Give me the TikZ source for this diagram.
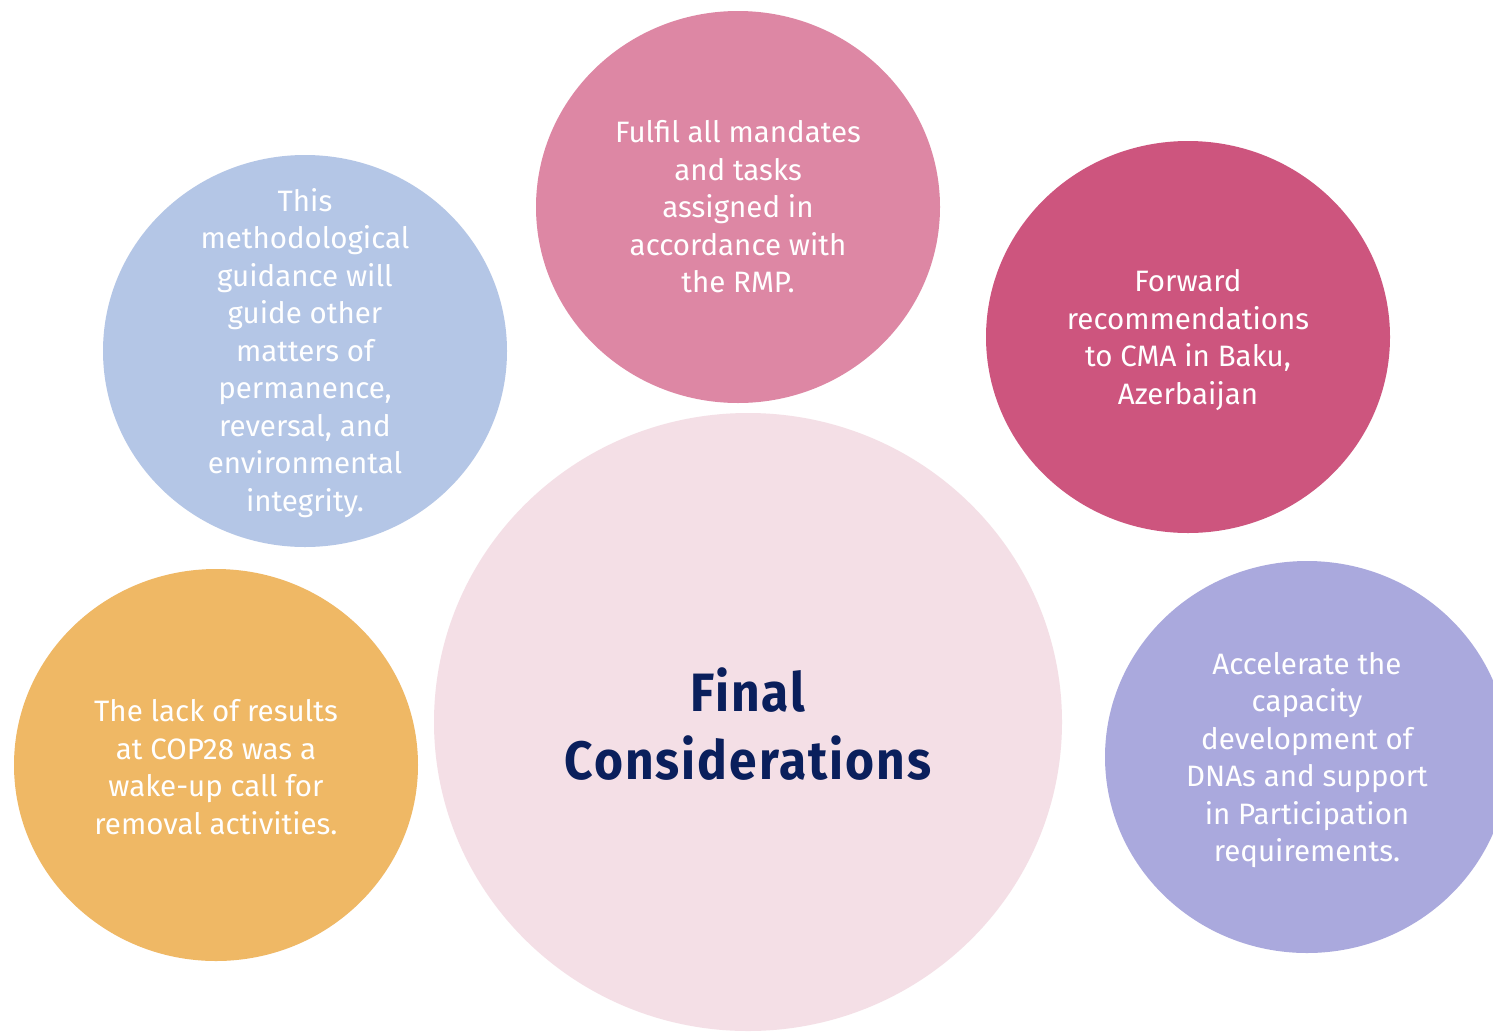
\documentclass[tikz,border=0pt]{standalone}
\usepackage{fontspec}
\usepackage{graphicx}
\usetikzlibrary{shapes.geometric}
\newfontfamily\bodyfont{Fira Sans}
\newfontfamily\titlefont[LetterSpace=4]{Fira Sans}
\definecolor{cpink}{HTML}{DD87A4}
\definecolor{cblue}{HTML}{B4C6E6}
\definecolor{cmag}{HTML}{CD557E}
\definecolor{cbig}{HTML}{F4DFE6}
\definecolor{corange}{HTML}{EFB865}
\definecolor{cpurple}{HTML}{AAA9DD}
\definecolor{cnavy}{HTML}{0A1F5C}
\tikzset{
  bubble/.style={ellipse, draw=none, inner sep=0pt, minimum width=404pt, minimum height=392pt},
  bubbletext/.style={align=center, text=white, inner sep=0pt, font=\bodyfont\fontsize{29.5}{37.5}\selectfont},
}
\begin{document}
\begin{tikzpicture}[x=1pt,y=-1pt]
\useasboundingbox (0,0) rectangle (1493,1031);
\clip (0,0) rectangle (1493,1031);
\fill[white] (0,0) rectangle (1493,1031);
\node[ellipse, fill=cbig, inner sep=0pt, minimum width=628pt, minimum height=618pt] (big) at (748,722) {};
\node[align=center, text=cnavy, font=\titlefont\bfseries\fontsize{54}{68}\selectfont] (title) at (748,724) {\scalebox{0.92}[1]{Final}\\\scalebox{0.92}[1]{Considerations}};
\node[bubble, fill=cpink] (mandates) at (738,207) {};
\node[bubbletext] (mandatesT) at (mandates) {Fulfil all mandates\\and tasks\\assigned in\\accordance with\\the RMP.};
\node[bubble, fill=cblue] (guidance) at (305,351) {};
\node[bubbletext] (guidanceT) at (305,353) {This\\methodological\\guidance will\\guide other\\matters of\\permanence,\\reversal, and\\environmental\\integrity.};
\node[bubble, fill=cmag] (forward) at (1188,337) {};
\node[bubbletext] (forwardT) at (1188,340) {Forward\\recommendations\\to CMA in Baku,\\Azerbaijan};
\node[bubble, fill=corange] (cop) at (216,765) {};
\node[bubbletext] (copT) at (216,767) {The lack of results\\at COP28 was a\\wake-up call for\\removal activities.};
\node[bubble, fill=cpurple] (dna) at (1307,757) {};
\node[bubbletext] (dnaT) at (1307,760) {Accelerate the\\capacity\\development of\\DNAs and support\\in Participation\\requirements.};
\end{tikzpicture}
\end{document}
